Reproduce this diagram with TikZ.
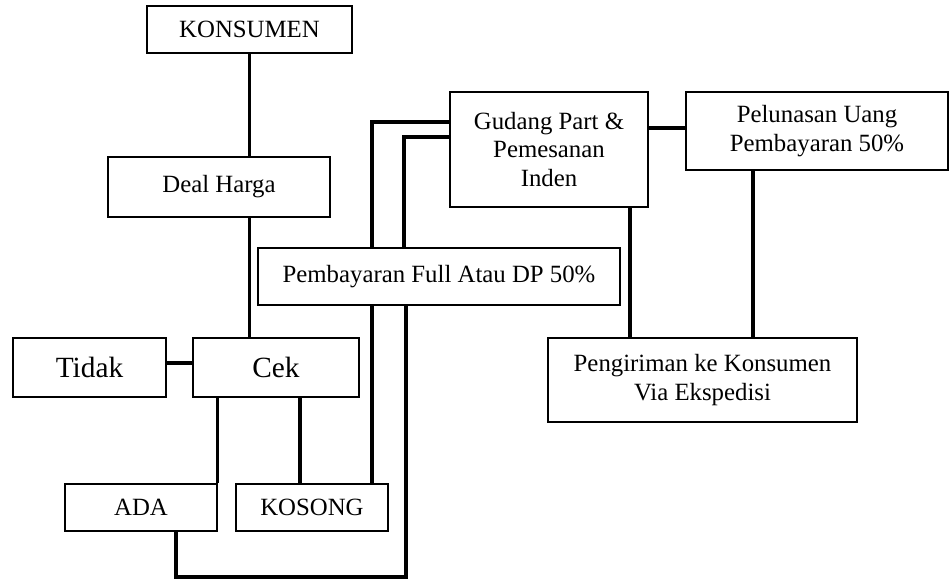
\documentclass[tikz,border=0pt]{standalone}
\usepackage{fontspec}
\setmainfont{Liberation Serif}
\begin{document}
\begin{tikzpicture}[x=0.75pt,y=-0.75pt,
  box/.style={draw, line width=1.1pt, fill=white, inner sep=0pt, align=center,
    font=\fontsize{18.6}{21.4}\selectfont},
  bigbox/.style={box, font=\fontsize{22}{25}\selectfont},
  link/.style={line width=2.3pt, line join=miter}]
\useasboundingbox (0,0) rectangle (949,579);
% nodes
\node[box, minimum width=205*0.75pt, minimum height=47*0.75pt] (kons) at (249.5,29.5) {KONSUMEN};
\node[box, minimum width=222*0.75pt, minimum height=60*0.75pt] (deal) at (219,187) {Deal Harga};
\node[bigbox, minimum width=166*0.75pt, minimum height=59*0.75pt] (cek) at (276,367.5) {Cek};
\node[bigbox, minimum width=153*0.75pt, minimum height=59*0.75pt] (tidak) at (89.5,367.5) {Tidak};
\node[box, minimum width=152*0.75pt, minimum height=47*0.75pt] (ada) at (141,507.5) {ADA};
\node[box, minimum width=152*0.75pt, minimum height=47*0.75pt] (kosong) at (312,507.5) {KOSONG};
\node[box, minimum width=362*0.75pt, minimum height=57*0.75pt] (bayar) at (439,276.5) {Pembayaran Full Atau DP 50\%};
\node[box, minimum width=198*0.75pt, minimum height=115*0.75pt] (gudang) at (549,149.5) {Gudang Part \&\\Pemesanan\\Inden};
\node[box, minimum width=262*0.75pt, minimum height=78*0.75pt] (lunas) at (817,131) {Pelunasan Uang\\Pembayaran 50\%};
\node[box, minimum width=309*0.75pt, minimum height=84*0.75pt] (kirim) at (702.5,380) {Pengiriman ke Konsumen\\Via Ekspedisi};
% helper coordinates
\coordinate (c1) at (300,0);
\coordinate (c2) at (372,122);
\coordinate (c4) at (176,577);
\coordinate (c5) at (406,0);
\coordinate (c6) at (404,137);
\coordinate (c7) at (0,128);
\coordinate (c8) at (630,0);
\coordinate (c9) at (753,0);
% connectors
\draw[link] (kons.south) -- (kons.south |- deal.north);
\draw[link] (kons.south |- deal.south) -- (kons.south |- cek.north);
\draw[link] ([yshift=3.4pt]tidak.east) -- ([yshift=3.4pt]cek.west);
\draw[link] (ada.north east) -- (ada.north east |- cek.south);
\draw[link] (cek.south -| c1) -- (kosong.north -| c1);
\draw[link] (kosong.north -| c2) -- (bayar.south -| c2);
\draw[link] (bayar.north -| c2) |- (gudang.west |- c2);
\draw[link] (ada.south -| c4) -- (c4) -| (bayar.south -| c5);
\draw[link] (bayar.north -| c6) |- (gudang.west |- c6);
\draw[link] (gudang.east |- c7) -- (lunas.west |- c7);
\draw[link] (gudang.south -| c8) -- (kirim.north -| c8);
\draw[link] (lunas.south -| c9) -- (kirim.north -| c9);
\end{tikzpicture}
\end{document}
